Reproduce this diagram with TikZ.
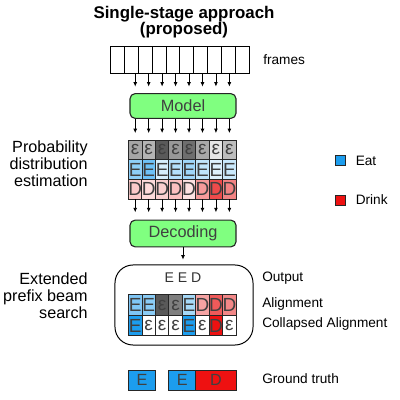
\documentclass[tikz,border=0pt]{standalone}
\usepackage{fontspec}
\setmainfont{Liberation Sans}
\usetikzlibrary{positioning, arrows.meta}
\definecolor{modelgreen}{HTML}{80FF80}
\definecolor{eatblue}{HTML}{1C9DEE}
\definecolor{drinkred}{HTML}{EE1111}
\tikzset{
    x=0.025cm, y=-0.025cm, % one unit is one pixel of the sketch
    >={Latex[length=3.2pt, width=2.8pt]}, % small filled arrow heads
    framebox/.style={draw, line width=0.7pt, minimum width=3.46mm, minimum height=6.75mm, inner sep=0pt},
    cell/.style={draw=black!85, line width=0.6pt, minimum width=3.36mm, minimum height=4.93mm, inner sep=0pt, font=\fontsize{13.5}{14}\selectfont, text=black!75},
    stage/.style={draw=black!85, line width=0.8pt, rounded corners=1.3mm, fill=modelgreen, minimum width=26.5mm, font=\fontsize{11.6}{12}\selectfont, text=black!75},
    tag/.style={anchor=west, inner sep=0pt, font=\fontsize{9.7}{11}\selectfont},
    sidelabel/.style={anchor=east, align=right, inner sep=0pt, font=\fontsize{11.5}{12}\selectfont},
    flow/.style={->, line width=0.6pt, shorten >=1.6mm},
}
\begin{document}
\begin{tikzpicture}
\useasboundingbox (0,0) rectangle (400,400);
\node[font=\bfseries\fontsize{12}{11.4}\selectfont, align=center] (title) at (184,22) {Single-stage approach\\(proposed)};

% frames
\foreach \i in {1,...,10}
    \node[framebox] (f\i) at ({110.7+13.83*(\i-0.5)}, 59.5) {};
\node[tag] (lblframes) at (263,60) {frames};

\node[stage, minimum height=6.2mm] (model) at (183,106) {Model};
\node[stage, minimum height=6.7mm] (decode) at (183,233.5) {Decoding};

% probability cells, one column per step
\foreach \ce/\ee/\de [count=\i] in {A6A6A6/8ECFF8/FBCACA, B4B4B4/6EC2F8/FDDADA, 5A5A5A/D5EEFD/FBCFCF, 989898/B5E0FB/FAC0C0, 6E6E6E/9FD6F9/FDE2E2, A8A8A8/C0E5FB/F59A9A, E6E6E6/DDF1FD/EE4B4B, BDBDBD/CAE9FC/F28383} {
    \definecolor{ce}{HTML}{\ce}
    \definecolor{ee}{HTML}{\ee}
    \definecolor{de}{HTML}{\de}
    \node[cell, fill=ce] (eps\i) at ({128.5+13.45*(\i-0.5)}, 149.8) {ε};
    \node[cell, fill=ee] (eat\i) at ({128.5+13.45*(\i-0.5)}, 169.5) {E};
    \node[cell, fill=de] (drk\i) at ({128.5+13.45*(\i-0.5)}, 189.2) {D};
    \draw[flow] (eps\i |- f1.south) -- (eps\i |- model.north);
    \draw[flow] (eps\i |- model.south) -- (eps\i);
    \draw[flow, shorten >=1.8mm] (drk\i) -- (drk\i |- decode.north);
}
\node[sidelabel] (lblprob) at (88,163.5) {Probability\\distribution\\estimation};

% beam search
\node[draw, line width=0.7pt, rounded corners=4.5mm, minimum width=34.5mm, minimum height=20mm] (search) at (184,305) {};
\draw[flow, shorten >=1.2mm] (decode.south) -- (decode.south |- search.north);
\node[font=\fontsize{10}{12}\selectfont, text=black!80] (outseq) at (183,278) {E E D};
\foreach \al/\ac/\cl/\cc [count=\i] in {E/7FC6F5/E/1C9DEE, E/8ACCF6/ε/FFFFFF, ε/595959/ε/FFFFFF, ε/7F7F7F/ε/FFFFFF, E/A6D9F8/E/1C9DEE, D/F5A3A3/ε/FFFFFF, D/EF5A5A/D/EE1111, D/F28787/ε/FFFFFF} {
    \definecolor{ac}{HTML}{\ac}
    \definecolor{cc}{HTML}{\cc}
    \node[cell, fill=ac, minimum height=5.1mm] (a\i) at ({128.5+13.45*(\i-0.5)}, 305) {\al};
    \node[cell, fill=cc, minimum height=5.1mm] (c\i) at ({128.5+13.45*(\i-0.5)}, 325.5) {\cl};
}
\node[sidelabel] (lblsearch) at (88,295.5) {Extended\\prefix beam\\search};
\node[tag] (lblout) at (262,278) {Output};
\node[tag] (lblalign) at (262,304) {Alignment};
\node[tag] (lblcoll) at (262,324) {Collapsed Alignment};

% ground truth
\node[cell, fill=eatblue, minimum width=6.72mm, minimum height=5mm, font=\fontsize{11.5}{12}\selectfont] (gt1) at (141.95,380) {E};
\node[cell, fill=eatblue, minimum width=6.72mm, minimum height=5mm, font=\fontsize{11.5}{12}\selectfont] (gt2) at (182.3,380) {E};
\node[cell, fill=drinkred, minimum width=10.09mm, minimum height=5mm, font=\fontsize{11.5}{12}\selectfont] (gt3) at (215.9,380) {D};
\node[tag] (lblgt) at (262,379) {Ground truth};

% legend
\node[draw=black!85, fill=eatblue, minimum size=2.6mm, inner sep=0pt] (eatkey) at (340,160.5) {};
\node[tag, right=2.5mm of eatkey] (lbleat) {Eat};
\node[draw=black!85, fill=drinkred, minimum size=2.6mm, inner sep=0pt] (drinkkey) at (340,200) {};
\node[tag, right=2.5mm of drinkkey] (lbldrink) {Drink};
\end{tikzpicture}
\end{document}
